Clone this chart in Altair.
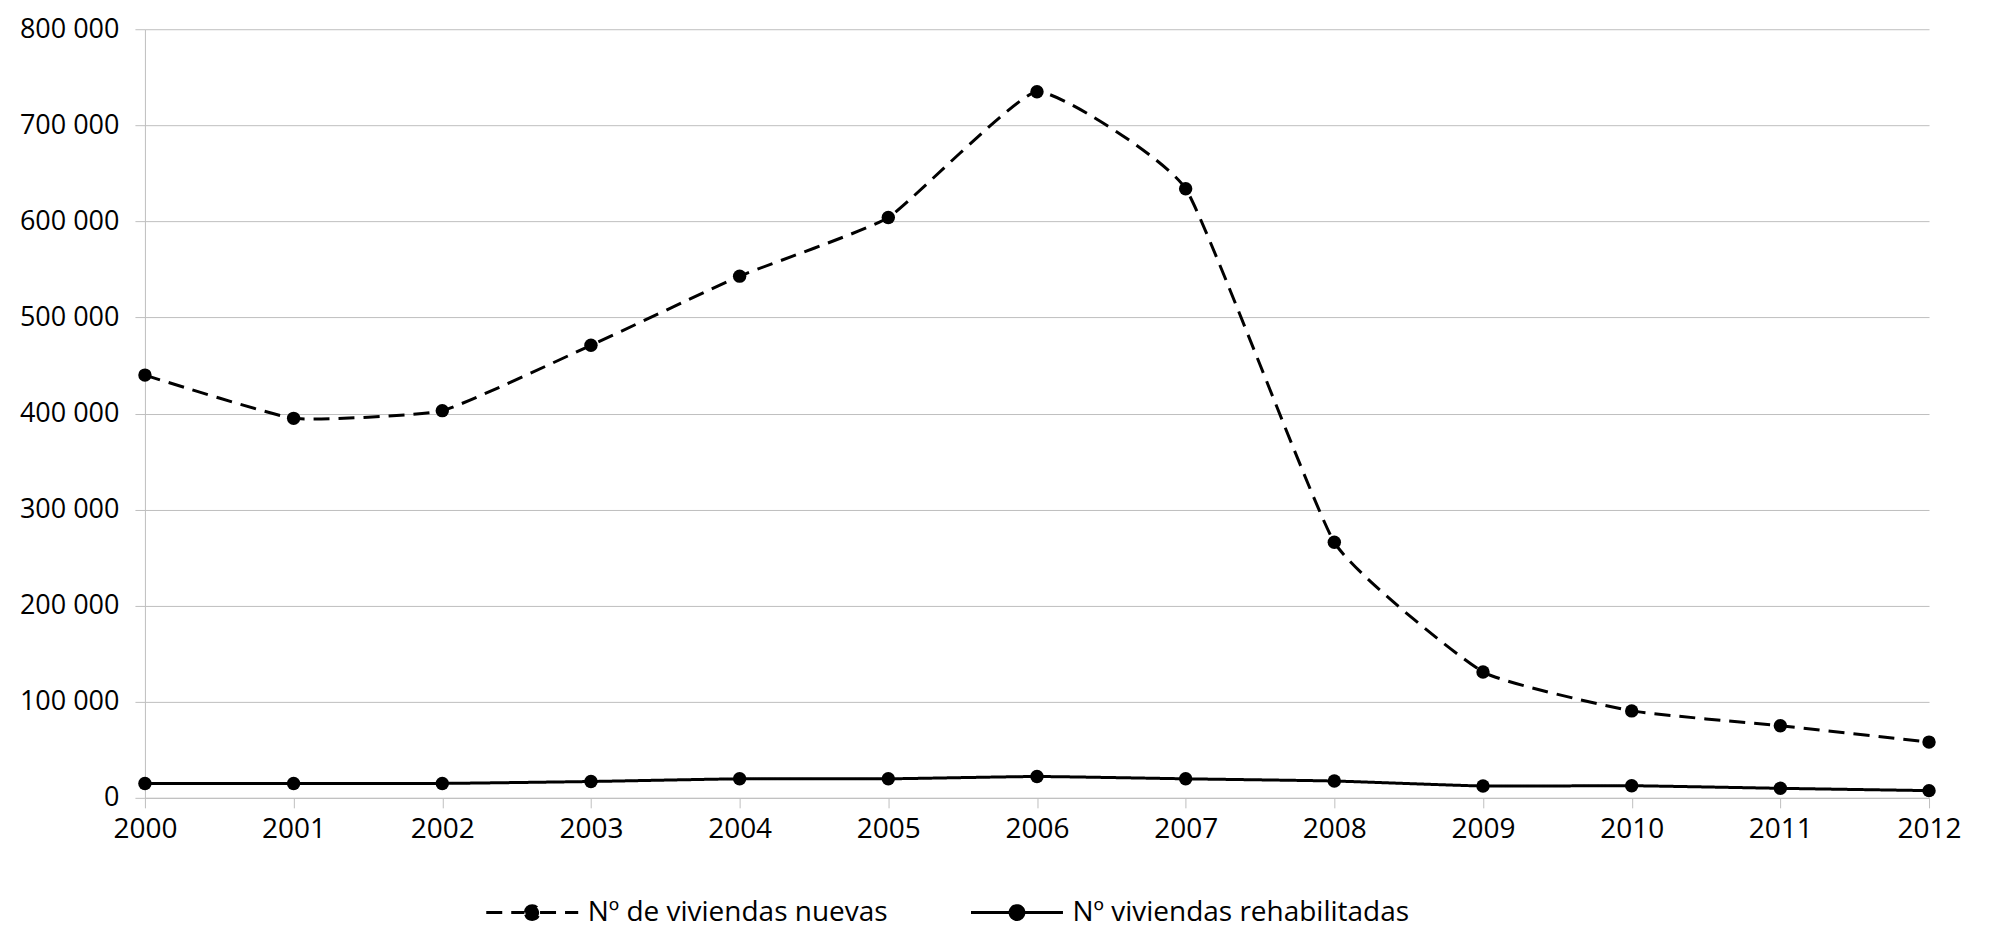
import altair as alt
import pandas as pd

years = [2000, 2001, 2002, 2003, 2004, 2005, 2006, 2007, 2008, 2009, 2010, 2011, 2012]
nuevas = [440000, 395000, 403000, 471000, 543000, 604000, 735000, 634000, 266000, 131000, 90500, 75000, 58000]
rehabilitadas = [15000, 15000, 15000, 17000, 19800, 19800, 22200, 19800, 17500, 12300, 12600, 9900, 7500]
series_names = ["Nº de viviendas nuevas", "Nº viviendas rehabilitadas"]
y_ticks = [0, 100000, 200000, 300000, 400000, 500000, 600000, 700000, 800000]

rows = []
for yr, v in zip(years, nuevas):
    rows.append({"year": yr, "value": v, "serie": series_names[0]})
for yr, v in zip(years, rehabilitadas):
    rows.append({"year": yr, "value": v, "serie": series_names[1]})
df = pd.DataFrame(rows)

FONT = "Open Sans"
GRID = "#bfbfbf"

x_enc = alt.X(
    "year:Q",
    scale=alt.Scale(domain=[2000, 2012], nice=False, zero=False),
    axis=alt.Axis(
        values=years, format="d", title=None, grid=False,
        domainColor=GRID, tickColor=GRID, tickSize=10,
        labelFontSize=28, labelFont=FONT, labelColor="black",
        labelPadding=8, labelFlush=False, labelOverlap=False,
    ),
)
y_enc = alt.Y(
    "value:Q",
    scale=alt.Scale(domain=[0, 800000], nice=False),
    axis=alt.Axis(
        values=y_ticks, title=None, grid=True, gridColor=GRID, gridWidth=1,
        domainColor=GRID, tickColor=GRID, tickSize=10,
        labelFontSize=27, labelFont=FONT, labelColor="black", labelPadding=16,
        labelExpr="replace(format(datum.value, ','), regexp(',', 'g'), ' ')",
    ),
)

legend_path = ("M-1,0L-0.17,0M0.17,0L1,0"
               "M-0.15,0A0.15,0.15 0 1,1 0.15,0A0.15,0.15 0 1,1 -0.15,0Z")

lines = alt.Chart(df).mark_line(
    interpolate="cardinal", tension=0.6, strokeWidth=3, color="black"
).encode(
    x=x_enc,
    y=y_enc,
    strokeDash=alt.StrokeDash(
        "serie:N",
        scale=alt.Scale(domain=series_names, range=[[16, 9], [1, 0]]),
        legend=alt.Legend(
            title=None, orient="none", direction="horizontal",
            legendX=340, legendY=836, padding=0,
            symbolType=legend_path, symbolSize=8464,
            symbolStrokeWidth=3, symbolStrokeColor="black", symbolFillColor="black",
            labelFont=FONT, labelFontSize=28, labelColor="black",
            labelOffset=8, columnPadding=76, labelLimit=600,
        ),
    ),
)

points = alt.Chart(df).mark_point(
    filled=True, size=180, color="black", opacity=1
).encode(
    x=x_enc,
    y=y_enc,
    detail="serie:N",
)

chart = alt.layer(lines, points).properties(
    width=1785,
    height=769,
    padding={"left": 137, "top": 21, "right": 55, "bottom": 132},
    autosize=alt.AutoSizeParams(type="none"),
    background="white",
).configure_view(stroke=None)

chart.save("out.html", embed_options={"renderer": "svg", "actions": False})
